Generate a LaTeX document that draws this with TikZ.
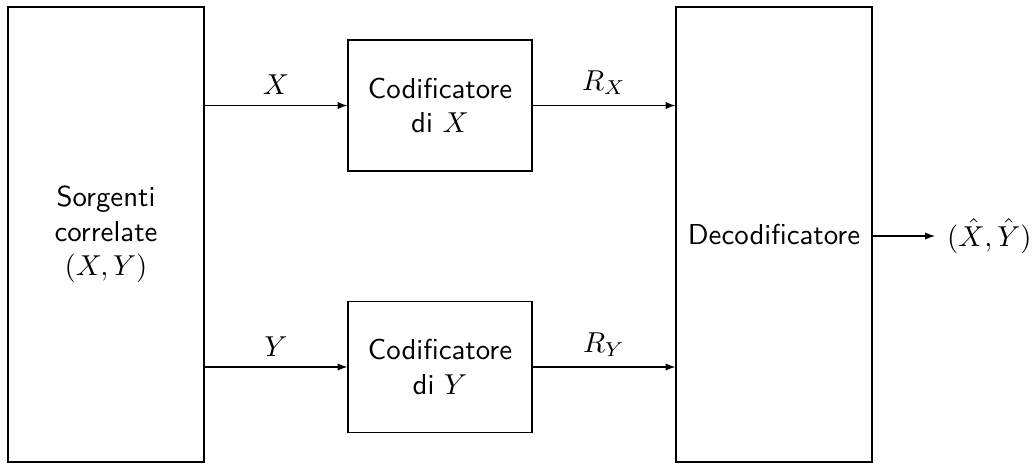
\documentclass[tikz,border=0pt]{standalone}
\usepackage{amsmath}
\usepackage{tikz}
\usetikzlibrary{arrows.meta,positioning,calc}
\tikzset{
  dblock/.style={draw=black, line width=0.4pt, align=center,
                 font=\sffamily, inner sep=3pt},
  dsrc/.style={dblock, minimum width=196*0.347pt, minimum height=455*0.347pt},
  denc/.style={dblock, minimum width=184*0.347pt, minimum height=131*0.347pt},
  darrow/.style={-{Latex[length=3.4pt,width=2.5pt]}, line width=0.4pt},
  dlabel/.style={inner sep=2pt},
}

\begin{document}
\begin{tikzpicture}[x=0.347pt,y=-0.347pt]
\useasboundingbox (0,0) rectangle (1034,464);
\node[dsrc] (src) at (106,234.5) {Sorgenti\\correlate\\$(X,Y)$};
\node[denc] (encx) at (440,105.5) {Codificatore\\di $X$};
\node[denc] (ency) at (440,367) {Codificatore\\di $Y$};
\node[dsrc] (dec) at (774,234.5) {Decodificatore};
\node[dlabel,inner sep=4pt,anchor=west] (out) at (935,236) {$(\hat{X},\hat{Y})$};
\draw[darrow] (src.east |- encx) -- node[dlabel,above=1.5pt] {$X$} (encx);
\draw[darrow] (src.east |- ency) -- node[dlabel,above=1.5pt] {$Y$} (ency);
\draw[darrow] (encx) -- node[dlabel,above=1.5pt] {$R_X$} (encx -| dec.west);
\draw[darrow] (ency) -- node[dlabel,above=1.5pt] {$R_Y$} (ency -| dec.west);
\draw[darrow] (dec.east |- out) -- (out);
\end{tikzpicture}
\end{document}
